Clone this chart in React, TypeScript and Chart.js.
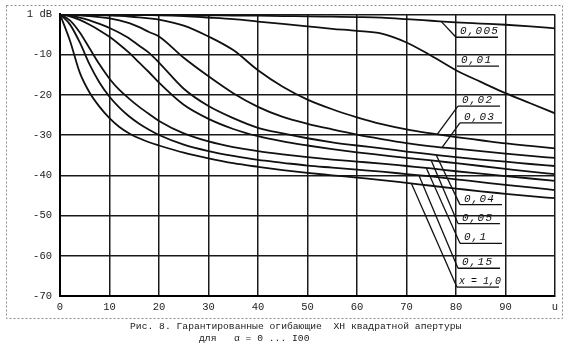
import React, { useEffect, useRef } from 'react';
import { Chart, registerables } from 'chart.js';

Chart.register(...registerables);

// ---------- data ----------
const U = [0, 2, 4, 6, 8, 10, 12, 14, 16, 18, 20, 25, 30, 35, 40, 45, 50, 55, 60, 65, 70, 75, 80, 85, 90, 95, 100];

const A_0005 = [0, 0, 0, -0.05, -0.05, -0.1, -0.1, -0.1, -0.1, -0.15, -0.15, -0.2, -0.25, -0.3, -0.35, -0.45, -0.5, -0.6, -0.7, -0.85, -1.2, -1.6, -2.0, -2.3, -2.6, -3.0, -3.5];
const A_001 = [0, -0.02, -0.05, -0.08, -0.1, -0.12, -0.15, -0.18, -0.2, -0.22, -0.25, -0.45, -0.8, -1.2, -1.8, -2.4, -3.0, -3.6, -4.1, -4.8, -7.0, -10.3, -13.9, -16.8, -19.6, -22.1, -24.6];
const A_002 = [0, -0.05, -0.1, -0.15, -0.2, -0.3, -0.4, -0.55, -0.75, -1.0, -1.3, -2.8, -5.5, -8.9, -13.9, -18.0, -21.2, -23.6, -25.6, -27.3, -28.6, -29.6, -30.5, -31.3, -32.1, -32.7, -33.3];
const A_003 = [0, -0.1, -0.25, -0.45, -0.7, -1.0, -1.5, -2.2, -3.2, -4.4, -5.5, -10.8, -15.4, -19.6, -23.0, -25.5, -27.2, -28.6, -29.9, -31.0, -32.0, -32.8, -33.4, -34.0, -34.6, -35.2, -35.7];
const A_004 = [0, -0.3, -0.8, -1.5, -2.4, -3.4, -4.6, -6.0, -7.8, -9.6, -12.0, -18.5, -22.8, -25.8, -28.2, -29.6, -30.8, -31.8, -32.6, -33.3, -34.1, -34.8, -35.5, -36.1, -36.6, -37.2, -37.7];
const A_005 = [0, -0.5, -1.4, -2.6, -4.0, -5.6, -7.5, -9.6, -12.0, -14.4, -17.0, -22.5, -26.0, -28.5, -30.3, -31.6, -32.6, -33.5, -34.3, -35.0, -35.7, -36.3, -37.0, -37.7, -38.4, -39.1, -39.7];
const A_01 = [0, -1.5, -4.5, -8.5, -12.5, -16.0, -18.8, -21.0, -23.0, -24.8, -26.5, -29.6, -31.6, -33.0, -34.0, -34.8, -35.5, -36.1, -36.6, -37.1, -37.7, -38.3, -39.0, -39.6, -40.2, -40.8, -41.4];
const A_015 = [0, -2.5, -7.0, -12.5, -17.0, -20.5, -23.2, -25.4, -27.2, -28.7, -30.0, -32.4, -34.0, -35.2, -36.2, -36.9, -37.6, -38.1, -38.6, -39.1, -39.7, -40.3, -41.0, -41.7, -42.4, -43.0, -43.7];
const A_10 = [0, -6.5, -14.5, -19.5, -23.0, -25.8, -28.0, -29.6, -30.8, -31.8, -32.6, -34.4, -35.8, -37.0, -37.9, -38.7, -39.4, -40.0, -40.6, -41.2, -41.9, -42.6, -43.3, -44.0, -44.6, -45.2, -45.7];

const SERIES = [A_0005, A_001, A_002, A_003, A_004, A_005, A_01, A_015, A_10];
const SERIES_NAMES = ['0,005', '0,01', '0,02', '0,03', '0,04', '0,05', '0,1', '0,15', 'x = 1,0'];

const X_TICK_LABELS = ['0', '10', '20', '30', '40', '50', '60', '70', '80', '90', 'u'];
const Y_TICK_LABELS = ['-70', '-60', '-50', '-40', '-30', '-20', '-10', '1 dB'];

const CAPTION_1 = 'Рис. 8. Гарантированные огибающие  ХН квадратной апертуры';
const CAPTION_2 = 'для   α = 0 ... I00';

// ---------- annotation layout (data coordinates) ----------
const LABEL_AT: number[][] = [
  [80.0, -5.7], [80.2, -12.9], [80.4, -22.8], [80.8, -27.0],
  [80.8, -47.3], [80.4, -52.0], [80.8, -56.9], [80.4, -63.1], [80.2, -67.8],
];
const LEADER_X: (number | null)[] = [77, null, 76.2, 77.2, 76, 75, 74, 72.5, 71];

function interp(arr: number[], x: number) {
  for (let i = 0; i < U.length - 1; i++) {
    if (x >= U[i] && x <= U[i + 1]) {
      const t = (x - U[i]) / (U[i + 1] - U[i]);
      return arr[i] + t * (arr[i + 1] - arr[i]);
    }
  }
  return arr[arr.length - 1];
}

const MONO = '"Liberation Mono", "DejaVu Sans Mono", monospace';

const decor = {
  id: 'decor',
  beforeDraw(chart: any) {
    const { ctx, width, height } = chart;
    ctx.save();
    ctx.fillStyle = '#ffffff';
    ctx.fillRect(0, 0, width, height);
    ctx.restore();
  },
  afterDatasetsDraw(chart: any) {
    const { ctx } = chart;
    const xs = chart.scales.x;
    const ys = chart.scales.y;
    ctx.save();
    ctx.strokeStyle = '#111';
    ctx.fillStyle = '#111';
    ctx.lineWidth = 1.3;
    ctx.textAlign = 'left';
    ctx.textBaseline = 'alphabetic';
    SERIES_NAMES.forEach((name, i) => {
      const ux = xs.getPixelForValue(LABEL_AT[i][0]);
      const uy = ys.getPixelForValue(LABEL_AT[i][1]);
      ctx.beginPath();
      ctx.moveTo(ux, uy);
      ctx.lineTo(ux + 42, uy);
      ctx.stroke();
      if (name.length > 5) {
        ctx.font = 'italic 10px ' + MONO;
        (ctx as any).letterSpacing = '0px';
        ctx.fillText(name, ux + 2, uy - 3);
      } else {
        ctx.font = 'italic 11px ' + MONO;
        (ctx as any).letterSpacing = '1.2px';
        ctx.fillText(name, ux + 4, uy - 3);
      }
      const lx = LEADER_X[i];
      if (lx !== null) {
        const ax = xs.getPixelForValue(lx);
        const ay = ys.getPixelForValue(interp(SERIES[i], lx));
        ctx.beginPath();
        ctx.moveTo(ux, uy);
        ctx.lineTo(ax, ay);
        ctx.stroke();
      }
    });
    (ctx as any).letterSpacing = '0px';
    // outer dashed frame
    ctx.setLineDash([2, 2]);
    ctx.strokeStyle = '#8a8a8a';
    ctx.lineWidth = 1;
    ctx.strokeRect(6.5, 5.5, 556, 313);
    ctx.setLineDash([]);
    // caption
    ctx.fillStyle = '#1a1a1a';
    ctx.font = '9.7px ' + MONO;
    ctx.fillText(CAPTION_1, 130, 329);
    ctx.fillText(CAPTION_2, 199, 341);
    ctx.restore();
  },
};

export default function App() {
  const ref = useRef<HTMLCanvasElement | null>(null);
  useEffect(() => {
    document.body.style.margin = '0';
    if (!ref.current) return;
    const chart = new Chart(ref.current, {
      type: 'line',
      data: {
        datasets: SERIES.map((arr, i) => ({
          label: SERIES_NAMES[i],
          data: U.map((u, k) => ({ x: u, y: arr[k] })),
          borderColor: '#111',
          borderWidth: 1.8,
          pointRadius: 0,
          fill: false,
          cubicInterpolationMode: 'monotone' as const,
        })),
      },
      options: {
        responsive: false,
        animation: false,
        events: [],
        layout: { padding: { left: 0, right: 12, top: 14, bottom: 34 } },
        plugins: { legend: { display: false }, tooltip: { enabled: false }, title: { display: false } },
        scales: {
          x: {
            type: 'linear',
            min: 0,
            max: 100,
            afterFit: (s: any) => { s.height = 22; },
            ticks: {
              stepSize: 10,
              autoSkip: false,
              maxRotation: 0,
              padding: 5,
              color: '#222',
              font: { family: MONO, size: 10.5 },
              callback: (v: any) => X_TICK_LABELS[Math.round(Number(v) / 10)] ?? '',
            },
            grid: { color: '#1a1a1a', lineWidth: 1.5, drawTicks: false },
            border: { display: true, color: '#000', width: 2 },
          },
          y: {
            type: 'linear',
            min: -70,
            max: 0,
            afterFit: (s: any) => { s.width = 60; },
            ticks: {
              stepSize: 10,
              autoSkip: false,
              padding: 8,
              color: '#222',
              font: { family: MONO, size: 10.5 },
              callback: (v: any) => Y_TICK_LABELS[Math.round((Number(v) + 70) / 10)] ?? '',
            },
            grid: { color: '#1a1a1a', lineWidth: 1.5, drawTicks: false },
            border: { display: true, color: '#000', width: 2 },
          },
        },
      },
      plugins: [decor],
    });
    return () => chart.destroy();
  }, []);
  return (
    <div style={{ position: 'fixed', left: 0, top: 0, width: 567, height: 352, background: '#fff' }}>
      <canvas ref={ref} width={567} height={352} style={{ display: 'block' }} />
    </div>
  );
}
